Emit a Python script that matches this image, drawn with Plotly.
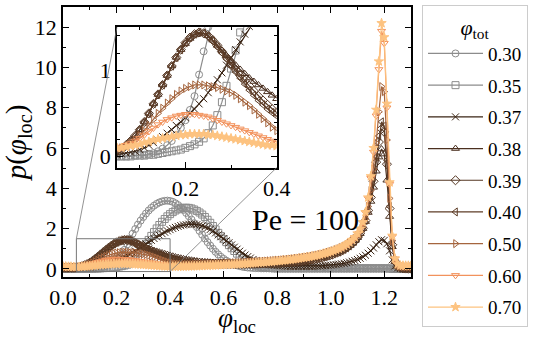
import plotly.graph_objects as go

# local packing fraction grid (histogram bin centres)
phi_loc = [round(0.01 * i, 2) for i in range(131)]

phi_tot = ["0.30", "0.35", "0.37", "0.38", "0.39", "0.40", "0.50", "0.60", "0.70"]

p_030 = [0.00, 0.00, 0.00, 0.00, 0.00, 0.00, 0.00, 0.00, 0.01, 0.01,
         0.02, 0.02, 0.03, 0.04, 0.06, 0.09, 0.13, 0.18, 0.25, 0.33,
         0.42, 0.54, 0.70, 0.95, 1.22, 1.50, 1.75, 1.98, 2.20, 2.40,
         2.58, 2.75, 2.90, 3.03, 3.14, 3.23, 3.30, 3.35, 3.38, 3.39,
         3.37, 3.33, 3.26, 3.17, 3.06, 2.93, 2.78, 2.62, 2.45, 2.27,
         2.08, 1.89, 1.70, 1.51, 1.33, 1.16, 1.00, 0.85, 0.72, 0.60,
         0.50, 0.41, 0.33, 0.27, 0.22, 0.18, 0.14, 0.11, 0.09, 0.07,
         0.06, 0.05, 0.04, 0.04, 0.03, 0.03, 0.03, 0.03, 0.03, 0.03,
         0.03, 0.03, 0.03, 0.03, 0.03, 0.03, 0.03, 0.03, 0.03, 0.03,
         0.03, 0.03, 0.03, 0.03, 0.03, 0.03, 0.03, 0.03, 0.03, 0.03,
         0.03, 0.03, 0.03, 0.03, 0.03, 0.03, 0.03, 0.03, 0.03, 0.03,
         0.03, 0.03, 0.03, 0.03, 0.03, 0.03, 0.03, 0.03, 0.03, 0.03,
         0.03, 0.03, 0.02, 0.01, 0.00, 0.00, 0.00, 0.00, 0.00, 0.00,
         0.00]

p_035 = [0.00, 0.00, 0.00, 0.00, 0.00, 0.00, 0.00, 0.00, 0.00, 0.01,
         0.01, 0.01, 0.02, 0.02, 0.03, 0.04, 0.05, 0.06, 0.07, 0.08,
         0.10, 0.12, 0.14, 0.17, 0.21, 0.27, 0.36, 0.48, 0.63, 0.82,
         1.02, 1.23, 1.44, 1.64, 1.83, 2.01, 2.18, 2.34, 2.48, 2.61,
         2.72, 2.82, 2.90, 2.96, 3.00, 3.03, 3.04, 3.03, 3.00, 2.95,
         2.88, 2.80, 2.70, 2.58, 2.44, 2.29, 2.13, 1.96, 1.79, 1.63,
         1.48, 1.33, 1.18, 1.03, 0.89, 0.76, 0.64, 0.53, 0.43, 0.35,
         0.28, 0.22, 0.17, 0.13, 0.10, 0.08, 0.06, 0.05, 0.04, 0.03,
         0.03, 0.03, 0.03, 0.03, 0.03, 0.03, 0.03, 0.03, 0.03, 0.03,
         0.03, 0.03, 0.03, 0.03, 0.03, 0.03, 0.03, 0.03, 0.03, 0.03,
         0.03, 0.03, 0.03, 0.03, 0.03, 0.03, 0.03, 0.03, 0.03, 0.03,
         0.03, 0.03, 0.03, 0.03, 0.03, 0.03, 0.03, 0.03, 0.03, 0.03,
         0.03, 0.03, 0.02, 0.01, 0.00, 0.00, 0.00, 0.00, 0.00, 0.00,
         0.00]

p_037 = [0.01, 0.01, 0.01, 0.01, 0.02, 0.02, 0.03, 0.04, 0.05, 0.06,
         0.08, 0.10, 0.13, 0.16, 0.19, 0.23, 0.27, 0.31, 0.36, 0.40,
         0.45, 0.50, 0.55, 0.61, 0.67, 0.74, 0.81, 0.89, 0.97, 1.06,
         1.15, 1.24, 1.33, 1.42, 1.51, 1.59, 1.67, 1.75, 1.82, 1.89,
         1.95, 2.01, 2.06, 2.11, 2.15, 2.18, 2.20, 2.22, 2.22, 2.22,
         2.20, 2.18, 2.14, 2.09, 2.03, 1.96, 1.88, 1.79, 1.69, 1.60,
         1.50, 1.40, 1.30, 1.19, 1.08, 0.98, 0.88, 0.78, 0.69, 0.61,
         0.54, 0.47, 0.41, 0.36, 0.32, 0.28, 0.25, 0.22, 0.20, 0.18,
         0.17, 0.16, 0.15, 0.14, 0.14, 0.13, 0.13, 0.13, 0.13, 0.13,
         0.13, 0.13, 0.13, 0.13, 0.14, 0.14, 0.15, 0.16, 0.17, 0.18,
         0.19, 0.21, 0.22, 0.24, 0.26, 0.28, 0.31, 0.34, 0.38, 0.42,
         0.47, 0.53, 0.60, 0.68, 0.78, 0.90, 1.04, 1.20, 1.35, 1.45,
         1.42, 1.25, 0.90, 0.45, 0.15, 0.05, 0.02, 0.01, 0.01, 0.00,
         0.00]

p_038 = [0.06, 0.06, 0.06, 0.06, 0.06, 0.07, 0.09, 0.13, 0.18, 0.24,
         0.31, 0.40, 0.50, 0.61, 0.72, 0.83, 0.94, 1.05, 1.15, 1.24,
         1.31, 1.37, 1.41, 1.43, 1.43, 1.40, 1.35, 1.29, 1.23, 1.17,
         1.11, 1.06, 1.01, 0.96, 0.91, 0.87, 0.83, 0.79, 0.75, 0.71,
         0.67, 0.63, 0.59, 0.56, 0.53, 0.50, 0.47, 0.45, 0.43, 0.41,
         0.39, 0.37, 0.36, 0.35, 0.34, 0.33, 0.32, 0.31, 0.30, 0.30,
         0.29, 0.29, 0.28, 0.28, 0.28, 0.28, 0.28, 0.28, 0.28, 0.28,
         0.28, 0.28, 0.29, 0.29, 0.29, 0.30, 0.30, 0.31, 0.31, 0.32,
         0.33, 0.33, 0.34, 0.35, 0.36, 0.37, 0.38, 0.39, 0.41, 0.42,
         0.44, 0.46, 0.48, 0.50, 0.52, 0.55, 0.58, 0.61, 0.64, 0.68,
         0.72, 0.76, 0.81, 0.86, 0.92, 0.99, 1.07, 1.16, 1.27, 1.40,
         1.55, 1.75, 2.00, 2.35, 2.80, 3.35, 4.05, 4.85, 5.55, 5.95,
         5.70, 4.40, 2.60, 1.10, 0.35, 0.12, 0.05, 0.03, 0.02, 0.02,
         0.02]

p_039 = [0.06, 0.06, 0.06, 0.06, 0.06, 0.07, 0.09, 0.13, 0.18, 0.24,
         0.31, 0.40, 0.50, 0.61, 0.72, 0.83, 0.94, 1.05, 1.15, 1.24,
         1.32, 1.38, 1.42, 1.44, 1.43, 1.40, 1.35, 1.29, 1.22, 1.15,
         1.08, 1.01, 0.94, 0.88, 0.82, 0.76, 0.70, 0.65, 0.60, 0.55,
         0.51, 0.47, 0.44, 0.41, 0.39, 0.37, 0.35, 0.33, 0.32, 0.31,
         0.30, 0.29, 0.28, 0.27, 0.27, 0.26, 0.26, 0.25, 0.25, 0.25,
         0.25, 0.25, 0.25, 0.25, 0.25, 0.25, 0.25, 0.25, 0.25, 0.26,
         0.26, 0.26, 0.26, 0.27, 0.27, 0.28, 0.28, 0.29, 0.29, 0.30,
         0.31, 0.31, 0.32, 0.33, 0.34, 0.35, 0.36, 0.37, 0.39, 0.40,
         0.42, 0.44, 0.46, 0.48, 0.50, 0.53, 0.56, 0.59, 0.62, 0.66,
         0.70, 0.75, 0.80, 0.85, 0.91, 0.98, 1.06, 1.15, 1.26, 1.39,
         1.55, 1.76, 2.02, 2.40, 2.90, 3.55, 4.35, 5.30, 6.30, 6.95,
         6.80, 5.20, 3.00, 1.20, 0.38, 0.12, 0.05, 0.03, 0.02, 0.02,
         0.02]

p_040 = [0.06, 0.06, 0.06, 0.06, 0.06, 0.07, 0.09, 0.13, 0.18, 0.24,
         0.31, 0.40, 0.50, 0.61, 0.72, 0.83, 0.94, 1.05, 1.15, 1.24,
         1.32, 1.38, 1.42, 1.44, 1.43, 1.39, 1.34, 1.27, 1.20, 1.13,
         1.05, 0.98, 0.91, 0.84, 0.77, 0.71, 0.65, 0.60, 0.55, 0.51,
         0.47, 0.43, 0.40, 0.37, 0.35, 0.33, 0.31, 0.30, 0.29, 0.28,
         0.27, 0.26, 0.25, 0.25, 0.24, 0.24, 0.24, 0.23, 0.23, 0.23,
         0.23, 0.23, 0.23, 0.23, 0.23, 0.23, 0.23, 0.23, 0.24, 0.24,
         0.24, 0.24, 0.25, 0.25, 0.26, 0.26, 0.27, 0.27, 0.28, 0.29,
         0.29, 0.30, 0.31, 0.32, 0.33, 0.34, 0.35, 0.36, 0.38, 0.39,
         0.41, 0.43, 0.45, 0.47, 0.49, 0.52, 0.55, 0.58, 0.61, 0.65,
         0.69, 0.74, 0.79, 0.84, 0.90, 0.97, 1.05, 1.14, 1.25, 1.38,
         1.54, 1.76, 2.03, 2.42, 2.95, 3.65, 4.55, 5.55, 6.60, 7.30,
         7.10, 5.40, 3.10, 1.25, 0.40, 0.12, 0.05, 0.03, 0.02, 0.02,
         0.02]

p_050 = [0.09, 0.09, 0.09, 0.09, 0.09, 0.09, 0.10, 0.12, 0.15, 0.19,
         0.24, 0.30, 0.36, 0.43, 0.50, 0.56, 0.62, 0.67, 0.72, 0.76,
         0.79, 0.81, 0.83, 0.83, 0.83, 0.82, 0.81, 0.80, 0.78, 0.76,
         0.74, 0.71, 0.67, 0.63, 0.59, 0.54, 0.49, 0.44, 0.39, 0.34,
         0.30, 0.27, 0.25, 0.24, 0.23, 0.23, 0.23, 0.23, 0.23, 0.24,
         0.24, 0.24, 0.25, 0.25, 0.26, 0.26, 0.27, 0.27, 0.28, 0.28,
         0.29, 0.29, 0.30, 0.30, 0.31, 0.31, 0.32, 0.33, 0.33, 0.34,
         0.35, 0.35, 0.36, 0.37, 0.38, 0.38, 0.39, 0.40, 0.41, 0.42,
         0.43, 0.44, 0.45, 0.46, 0.47, 0.49, 0.50, 0.52, 0.53, 0.55,
         0.57, 0.59, 0.61, 0.63, 0.66, 0.68, 0.71, 0.74, 0.78, 0.82,
         0.86, 0.90, 0.95, 1.00, 1.06, 1.13, 1.20, 1.29, 1.39, 1.51,
         1.65, 1.85, 2.10, 2.50, 3.10, 3.90, 4.95, 6.25, 7.80, 9.05,
         8.80, 6.40, 3.50, 1.40, 0.45, 0.18, 0.12, 0.11, 0.10, 0.10,
         0.10]

p_060 = [0.11, 0.11, 0.10, 0.10, 0.10, 0.10, 0.11, 0.13, 0.15, 0.18,
         0.21, 0.25, 0.29, 0.33, 0.37, 0.40, 0.43, 0.45, 0.47, 0.48,
         0.49, 0.49, 0.49, 0.48, 0.47, 0.46, 0.44, 0.42, 0.40, 0.38,
         0.36, 0.34, 0.32, 0.30, 0.28, 0.26, 0.24, 0.22, 0.20, 0.18,
         0.17, 0.16, 0.15, 0.15, 0.15, 0.15, 0.15, 0.15, 0.16, 0.16,
         0.16, 0.17, 0.17, 0.18, 0.18, 0.19, 0.19, 0.20, 0.20, 0.21,
         0.21, 0.22, 0.23, 0.23, 0.24, 0.25, 0.25, 0.26, 0.27, 0.28,
         0.28, 0.29, 0.30, 0.31, 0.32, 0.33, 0.34, 0.35, 0.36, 0.37,
         0.38, 0.39, 0.41, 0.42, 0.43, 0.45, 0.46, 0.48, 0.50, 0.52,
         0.54, 0.56, 0.58, 0.61, 0.63, 0.66, 0.69, 0.73, 0.76, 0.80,
         0.84, 0.89, 0.94, 0.99, 1.05, 1.12, 1.20, 1.30, 1.42, 1.56,
         1.74, 1.98, 2.30, 2.80, 3.50, 4.50, 5.80, 7.60, 9.90, 11.80,
         11.20, 8.00, 4.20, 1.60, 0.50, 0.22, 0.16, 0.15, 0.15, 0.15,
         0.15]

p_070 = [0.12, 0.12, 0.11, 0.11, 0.10, 0.10, 0.10, 0.11, 0.12, 0.13,
         0.14, 0.16, 0.17, 0.19, 0.20, 0.21, 0.22, 0.23, 0.24, 0.25,
         0.25, 0.26, 0.26, 0.26, 0.26, 0.25, 0.25, 0.24, 0.23, 0.22,
         0.21, 0.20, 0.19, 0.18, 0.17, 0.16, 0.15, 0.14, 0.13, 0.13,
         0.12, 0.12, 0.12, 0.12, 0.12, 0.12, 0.13, 0.13, 0.13, 0.14,
         0.14, 0.15, 0.15, 0.16, 0.16, 0.17, 0.17, 0.18, 0.19, 0.19,
         0.20, 0.21, 0.21, 0.22, 0.23, 0.24, 0.24, 0.25, 0.26, 0.27,
         0.28, 0.29, 0.30, 0.31, 0.32, 0.33, 0.34, 0.35, 0.36, 0.38,
         0.39, 0.40, 0.42, 0.43, 0.45, 0.46, 0.48, 0.50, 0.52, 0.54,
         0.56, 0.58, 0.60, 0.63, 0.65, 0.68, 0.71, 0.75, 0.78, 0.82,
         0.86, 0.91, 0.96, 1.01, 1.07, 1.14, 1.22, 1.32, 1.44, 1.58,
         1.76, 2.00, 2.32, 2.82, 3.55, 4.60, 6.00, 7.90, 10.30, 12.20,
         11.50, 8.20, 4.30, 1.65, 0.52, 0.23, 0.17, 0.16, 0.16, 0.16,
         0.16]

curves = [p_030, p_035, p_037, p_038, p_039, p_040, p_050, p_060, p_070]
colors = ["#8c8c8c", "#8c8c8c", "#3a2414", "#4b3020", "#543622", "#5e3d27",
          "#a5653e", "#f2925c", "#fdc380"]
symbols = ["circle-open", "square-open", "x-thin-open", "triangle-up-open",
           "diamond-open", "triangle-left-open", "triangle-right-open",
           "triangle-down-open", "star"]

FONT = "Liberation Serif"

# main axes ranges and inset placement
main_x = [0, 1.3]
main_y = [-0.4, 13]
zoom_x = [0.05, 0.4]
zoom_y = [-0.13, 1.5]
inset_dom_x = [0.155, 0.614]
inset_dom_y = [0.405, 0.925]

fig = go.Figure()
for label, p, color, symbol in zip(phi_tot, curves, colors, symbols):
    marker = dict(symbol=symbol, size=7, color=color, line=dict(color=color, width=1))
    fig.add_trace(go.Scatter(x=phi_loc, y=p, mode="lines+markers", name=label,
                             legendgroup=label, line=dict(color=color, width=1.2),
                             marker=marker))
    fig.add_trace(go.Scatter(x=phi_loc, y=p, mode="lines+markers", name=label,
                             legendgroup=label, showlegend=False,
                             line=dict(color=color, width=1.2), marker=marker,
                             xaxis="x2", yaxis="y2"))

axis_common = dict(showline=True, linecolor="black", linewidth=1.5, mirror="allticks",
                   ticks="inside", ticklen=6, tickcolor="black", showgrid=False,
                   zeroline=False, tickfont=dict(family=FONT, size=22, color="black"))

fig.update_layout(
    width=540, height=337,
    margin=dict(l=63, r=129, t=7, b=60, autoexpand=False),
    paper_bgcolor="white", plot_bgcolor="white",
    font=dict(family=FONT, color="black"),
    xaxis=dict(range=main_x, dtick=0.2, tick0=0, tickformat=".1f",
               minor=dict(dtick=0.1, ticklen=3, ticks="inside", tickcolor="black"),
               title=dict(text="<i>φ</i><sub>loc</sub>", font=dict(size=27), standoff=6),
               **axis_common),
    yaxis=dict(range=main_y, dtick=2, tick0=0,
               minor=dict(dtick=1, ticklen=3, ticks="inside", tickcolor="black"),
               title=dict(text="<i>p</i>(<i>φ</i><sub>loc</sub>)", font=dict(size=29), standoff=4),
               **axis_common),
    xaxis2=dict(domain=inset_dom_x, anchor="y2", range=zoom_x, dtick=0.2, tick0=0,
                tickformat=".1f",
                minor=dict(dtick=0.1, ticklen=3, ticks="inside", tickcolor="black"),
                **axis_common),
    yaxis2=dict(domain=inset_dom_y, anchor="x2", range=zoom_y, dtick=1, tick0=0,
                minor=dict(dtick=0.2, ticklen=3, ticks="inside", tickcolor="black"),
                **axis_common),
    legend=dict(xref="container", yref="container", x=422 / 540, y=1 - 5 / 337,
                xanchor="left", yanchor="top", maxheight=330,
                bgcolor="white", bordercolor="#cccccc", borderwidth=1,
                font=dict(family=FONT, size=19), tracegroupgap=4, itemwidth=55,
                title=dict(text="<i>φ</i><sub>tot</sub>", side="top center",
                           font=dict(size=22))),
    showlegend=True,
)

# inset corners expressed in main-axis data coordinates
ix0 = main_x[0] + inset_dom_x[0] * (main_x[1] - main_x[0])
ix1 = main_x[0] + inset_dom_x[1] * (main_x[1] - main_x[0])
iy0 = main_y[0] + inset_dom_y[0] * (main_y[1] - main_y[0])
iy1 = main_y[0] + inset_dom_y[1] * (main_y[1] - main_y[0])

fig.add_shape(type="rect", xref="x", yref="y", x0=zoom_x[0], x1=zoom_x[1],
              y0=zoom_y[0], y1=zoom_y[1], line=dict(color="#777777", width=1), layer="above")
fig.add_shape(type="line", xref="x", yref="y", x0=zoom_x[0], y0=zoom_y[1], x1=ix0, y1=iy1,
              line=dict(color="#777777", width=0.8), layer="above")
fig.add_shape(type="line", xref="x", yref="y", x0=zoom_x[1], y0=zoom_y[0], x1=ix1, y1=iy0,
              line=dict(color="#777777", width=0.8), layer="above")

fig.add_annotation(x=0.905, y=2.45, xref="x", yref="y", text="Pe = 100", showarrow=False,
                   font=dict(family=FONT, size=30, color="black"))

# drop the default page margin so the figure sits at the window's corner
fig.write_html("out.html", config={"displayModeBar": False},
               post_script="document.body.style.margin = '0';")
